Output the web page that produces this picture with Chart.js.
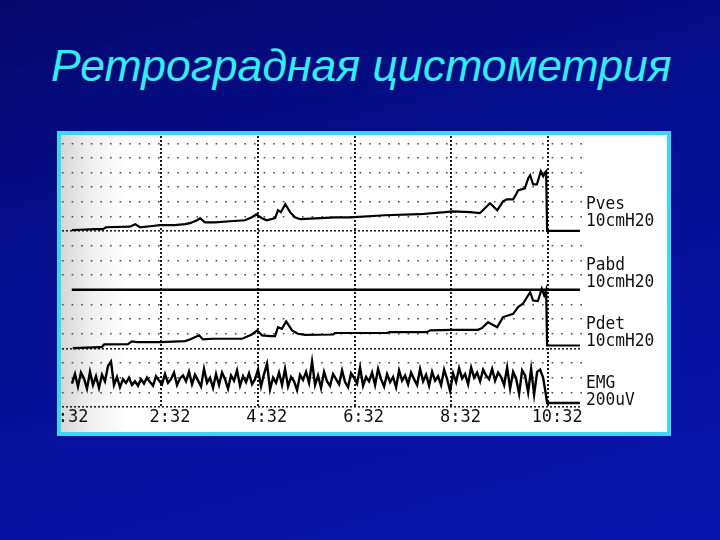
<!DOCTYPE html>
<html>
<head>
<meta charset="utf-8">
<script src="https://cdn.jsdelivr.net/npm/chart.js@4.4.0/dist/chart.umd.min.js"></script>
<style>
  html, body { margin: 0; padding: 0; }
  body {
    width: 720px; height: 540px; position: relative; overflow: hidden;
    background: linear-gradient(165deg, #03086c 0%, #050e8c 35%, #0612a2 70%, #0815ad 100%);
    font-family: 'Liberation Sans', Arial, sans-serif;
  }
  .title {
    position: absolute; left: 51px; top: 44px;
    font-size: 44.6px; line-height: 44px; font-style: italic;
    color: #34ecf4; white-space: nowrap;
  }
  .panel {
    position: absolute; left: 57px; top: 131px; width: 606px; height: 297px;
    border: 4px solid #3ad9ef;
    background: linear-gradient(90deg, #d6d6d6 0%, #f0f0f0 5%, #fff 11%, #fff 100%);
  }
  #chart { position: absolute; left: 0; top: 0; }
  .lbl {
    position: absolute; left: 586px;
    font-family: 'DejaVu Sans Mono', monospace; font-size: 18px; line-height: 17px;
    color: #111; transform: scaleX(0.9); transform-origin: 0 0; white-space: nowrap;
  }
</style>
</head>
<body>
<div class="title">Ретроградная цистометрия</div>
<div class="panel"></div>
<canvas id="chart" width="720" height="540"></canvas>
<div class="lbl" id="l0" style="top:194px"></div>
<div class="lbl" id="l1" style="top:255px"></div>
<div class="lbl" id="l2" style="top:314px"></div>
<div class="lbl" id="l3" style="top:373px"></div>
<script>
// time axis (minutes)
const tickTimes = [0.533, 2.533, 4.533, 6.533, 8.533, 10.533];
const tickLabels = [':32', '2:32', '4:32', '6:32', '8:32', '10:32'];

const channelNames = ['Pves', 'Pabd', 'Pdet', 'EMG'];
const channelUnits = ['10cmH20', '10cmH20', '10cmH20', '200uV'];

// Pves, cmH2O
const pvesTime = [0.69, 0.86, 1.17, 1.33, 1.40, 1.89, 2.00, 2.10, 2.31, 2.51,
    2.82, 3.03, 3.13, 3.28, 3.34, 3.44, 3.65, 3.96, 4.27, 4.41,
    4.50, 4.62, 4.72, 4.89, 4.95, 5.01, 5.10, 5.20, 5.30, 5.41,
    6.13, 6.44, 7.16, 7.88, 8.40, 8.55, 8.92, 9.12, 9.33, 9.48,
    9.60, 9.68, 9.81, 9.87, 9.91, 10.05, 10.12, 10.16, 10.22, 10.30,
    10.38, 10.43, 10.47, 10.49, 10.51, 11.19];
const pvesValues = [0.7, 1.0, 1.4, 1.4, 2.7, 3.1, 4.8, 2.7, 3.4, 4.1,
    4.1, 4.8, 5.5, 7.5, 8.9, 6.1, 6.1, 6.8, 7.5, 9.5,
    11.6, 8.9, 7.5, 8.9, 14.3, 13.0, 18.4, 13.0, 9.5, 8.2,
    9.5, 9.5, 10.9, 11.6, 13.0, 13.6, 13.0, 12.3, 19.1, 14.3,
    20.4, 21.8, 21.8, 25.2, 27.9, 29.3, 36.1, 38.2, 32.0, 32.0,
    40.9, 37.5, 40.2, 40.9, 0.3, 0.3];

// Pabd, cmH2O
const pabdTime = [0.69, 2.53, 4.53, 6.53, 8.53, 10.53, 11.19];
const pabdValues = [0, 0, 0, 0, 0, 0, 0];

// Pdet, cmH2O
const pdetTime = [0.71, 1.27, 1.31, 1.36, 1.85, 1.93, 2.04, 2.53, 3.03, 3.13,
    3.32, 3.40, 3.59, 4.21, 4.41, 4.52, 4.62, 4.79, 4.89, 4.95,
    5.03, 5.12, 5.24, 5.36, 5.51, 6.09, 6.13, 7.20, 7.26, 8.03,
    8.09, 8.55, 9.08, 9.17, 9.29, 9.48, 9.60, 9.81, 9.91, 10.01,
    10.16, 10.22, 10.32, 10.40, 10.45, 10.49, 10.51, 11.19];
const pdetValues = [0.2, 0.9, 0.9, 2.7, 2.9, 4.8, 4.3, 4.3, 5.0, 6.1,
    8.9, 6.1, 6.6, 6.6, 9.5, 12.3, 8.9, 8.4, 8.4, 14.5,
    13.4, 18.4, 12.3, 10.0, 9.3, 9.5, 10.5, 10.5, 11.1, 11.1,
    12.3, 12.7, 12.7, 14.0, 17.9, 14.5, 21.4, 23.6, 28.2, 30.5,
    38.4, 32.7, 32.3, 40.7, 36.1, 40.0, 2.0, 2.0];

// EMG, uV, sampled every emgStep minutes from emgStart
const emgStart = 0.694;
const emgStep = 0.062;
const emgValues = [
    320, 450, 280, 470, 390, 250, 480, 300, 420, 260, 440, 350, 560, 620, 300, 410, 270, 380, 330, 400,
    300, 350, 290, 380, 320, 400, 340, 290, 420, 360, 310, 450, 330, 380, 470, 300, 390, 430, 350, 480,
    310, 440, 360, 280, 520, 330, 400, 260, 450, 300, 470, 380, 250, 430, 360, 500, 290, 420, 340, 460,
    310, 380, 510, 280, 450, 590, 240, 400, 330, 470, 300, 520, 280, 410, 350, 230, 440, 370, 480, 330,
    620, 300, 430, 260, 480, 350, 290, 450, 380, 310, 500, 340, 270, 460, 400, 320, 540, 290, 410, 350,
    470, 300, 520, 380, 280, 450, 340, 410, 270, 500, 360, 430, 310, 470, 380, 300, 520, 350, 440, 290,
    480, 360, 420, 300, 510, 380, 220, 460, 340, 530, 390, 450, 310, 540, 400, 470, 350, 510, 430, 380,
    520, 360, 470, 410, 300, 540, 250, 480, 390, 180, 500, 430, 200, 520, 170, 480, 510, 400, 150
];
const emgTailTime = [10.51, 11.19];
const emgTailValues = [55, 55];

channelNames.forEach((n, i) => {
    document.getElementById('l' + i).innerHTML = n + '<br>' + channelUnits[i];
});

function pts(xs, ys) {
    return xs.map((x, i) => ({ x: x, y: ys[i] }));
}

const emgTime = emgValues.map((v, i) => emgStart + i * emgStep).concat(emgTailTime);
const emgAll = emgValues.concat(emgTailValues);

function trace(label, data, axis, width) {
    return {
        label: label,
        data: data,
        yAxisID: axis,
        borderColor: '#000',
        borderWidth: width,
        pointRadius: 0,
        tension: 0,
        fill: false
    };
}

const dotRows = [1, 2, 3, 5, 6, 7, 9, 10, 11, 13, 14, 15, 16, 17, 18];
const baseRows = [0, 4, 12];

new Chart(document.getElementById('chart'), {
    type: 'line',
    data: {
        datasets: [
            trace('Pves', pts(pvesTime, pvesValues), 'yPves', 2.2),
            trace('Pabd', pts(pabdTime, pabdValues), 'yPabd', 2.5),
            trace('Pdet', pts(pdetTime, pdetValues), 'yPdet', 2.2),
            trace('EMG', pts(emgTime, emgAll), 'yEmg', 2.4)
        ]
    },
    options: {
        responsive: false,
        animation: false,
        devicePixelRatio: 1,
        layout: { padding: { left: 62, top: 136, right: 138, bottom: 108 } },
        plugins: { legend: { display: false }, tooltip: { enabled: false } },
        scales: {
            x: {
                type: 'linear',
                min: 0.488,
                max: 11.231,
                afterBuildTicks: s => { s.ticks = tickTimes.map(v => ({ value: v })) },
                afterFit: s => { s.height = 25; s.paddingLeft = 0; s.paddingRight = 0 },
                grid: {
                    color: c => c.index === 0 ? 'rgba(0,0,0,0)' : '#1a1a1a',
                    lineWidth: 2,
                    drawTicks: false
                },
                border: { display: false, dash: [2, 2] },
                ticks: {
                    autoSkip: false,
                    maxRotation: 0,
                    labelOffset: 9,
                    padding: 0,
                    color: '#111',
                    font: { family: 'DejaVu Sans Mono', size: 17 },
                    callback: (v, i) => tickLabels[i]
                }
            },
            yRows: {
                position: 'left',
                min: 0,
                max: 18.5,
                afterBuildTicks: s => { s.ticks = dotRows.map(v => ({ value: v })) },
                afterFit: s => { s.width = 0 },
                ticks: { display: false },
                grid: { color: '#4a4a4a', lineWidth: 1.6, drawTicks: false },
                border: { display: false, dash: [1.6, 8] }
            },
            yBase: {
                position: 'left',
                min: 0,
                max: 18.5,
                afterBuildTicks: s => { s.ticks = baseRows.map(v => ({ value: v })) },
                afterFit: s => { s.width = 0 },
                ticks: { display: false },
                grid: { color: '#222', lineWidth: 1.6, drawTicks: false },
                border: { display: false, dash: [2, 2] }
            },
            yPves: { display: false, min: -120, max: 65 },
            yPabd: { display: false, min: -80, max: 105 },
            yPdet: { display: false, min: -40, max: 145 },
            yEmg: { display: false, min: 0, max: 3700 }
        }
    }
});
</script>
</body>
</html>
